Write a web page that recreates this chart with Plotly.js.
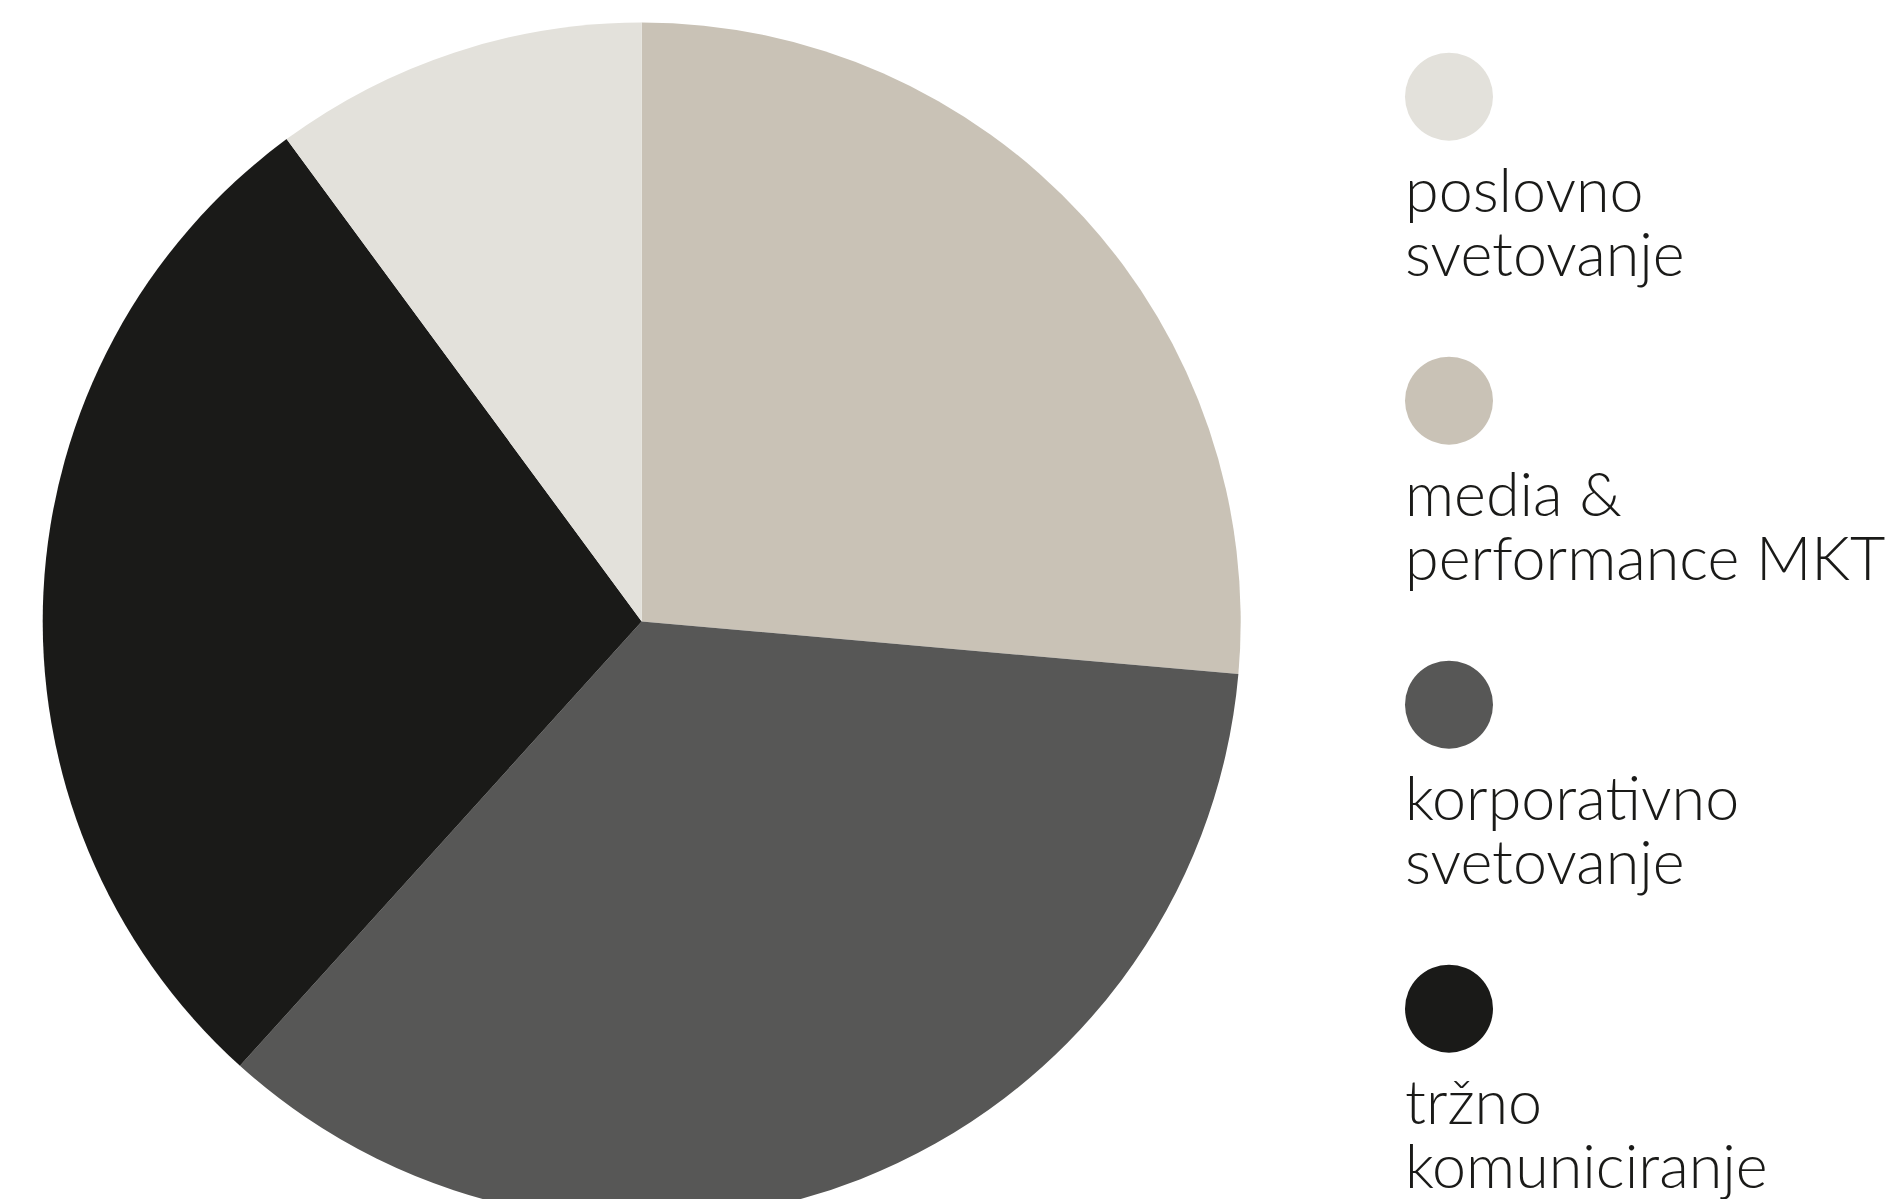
<!DOCTYPE html>
<html>
<head>
<meta charset="utf-8">
<script src="https://cdn.plot.ly/plotly-3.0.1.min.js"></script>
<style>
html, body { margin: 0; padding: 0; overflow: hidden; background: #ffffff; }
#wrap { width: 1896px; height: 1199px; overflow: hidden; position: relative; }
#chart { width: 1896px; height: 1240px; }
</style>
</head>
<body>
<div id="wrap"><div id="chart"></div></div>
<script>
// Categories in legend order
const categories = ['poslovno svetovanje', 'media & performance MKT', 'korporativno svetovanje', 'tržno komuniciranje'];
const legendLines = [['poslovno', 'svetovanje'], ['media &', 'performance MKT'], ['korporativno', 'svetovanje'], ['tržno', 'komuniciranje']];
const shares = [10.1, 26.4, 35.3, 28.2];
const colors = ['#E3E1DB', '#C9C2B6', '#575756', '#1A1A18'];
// order of slices clockwise from 12 o'clock
const pieOrder = [1, 2, 3, 0];

const W = 1896, H = 1240;
const cx = 641.7, cy = 621.5, R = 599;

const pie = {
  type: 'pie',
  labels: pieOrder.map(i => categories[i]),
  values: pieOrder.map(i => shares[i]),
  marker: { colors: pieOrder.map(i => colors[i]), line: { width: 0 } },
  sort: false,
  direction: 'clockwise',
  textinfo: 'none',
  hoverinfo: 'label+percent',
  showlegend: false,
  domain: { x: [(cx - R) / W, (cx + R) / W], y: [(H - (cy + R)) / H, (H - (cy - R)) / H] }
};

// legend layout (pixel coordinate axes)
const legX = 1449, legY0 = 96.7, legStep = 304, textX = 1403;
const legendY = categories.map((c, i) => legY0 + i * legStep);

const legendMarkers = {
  type: 'scatter',
  mode: 'markers',
  x: categories.map(() => legX),
  y: legendY,
  marker: { size: 88, color: colors, line: { width: 0 } },
  hoverinfo: 'skip',
  showlegend: false,
  xaxis: 'x', yaxis: 'y'
};

const fontSize = 61;
const annotations = [];
legendLines.forEach((lines, i) => {
  lines.forEach((t, j) => {
    annotations.push({
      xref: 'x', yref: 'y',
      x: textX, y: legendY[i] + 114 + j * 64 - 0.36 * fontSize,
      text: t, showarrow: false, xanchor: 'left', yanchor: 'middle',
      font: { family: 'Lato, sans-serif', size: fontSize, color: '#1A1A18', weight: 300 }
    });
  });
});

const layout = {
  width: W, height: H,
  margin: { l: 0, r: 0, t: 0, b: 0, pad: 0 },
  paper_bgcolor: '#ffffff', plot_bgcolor: 'rgba(0,0,0,0)',
  showlegend: false,
  xaxis: { range: [0, W], domain: [0, 1], visible: false, fixedrange: true },
  yaxis: { range: [H, 0], domain: [0, 1], visible: false, fixedrange: true },
  annotations: annotations
};

Plotly.newPlot('chart', [pie, legendMarkers], layout, { displayModeBar: false, staticPlot: true });
</script>
</body>
</html>
